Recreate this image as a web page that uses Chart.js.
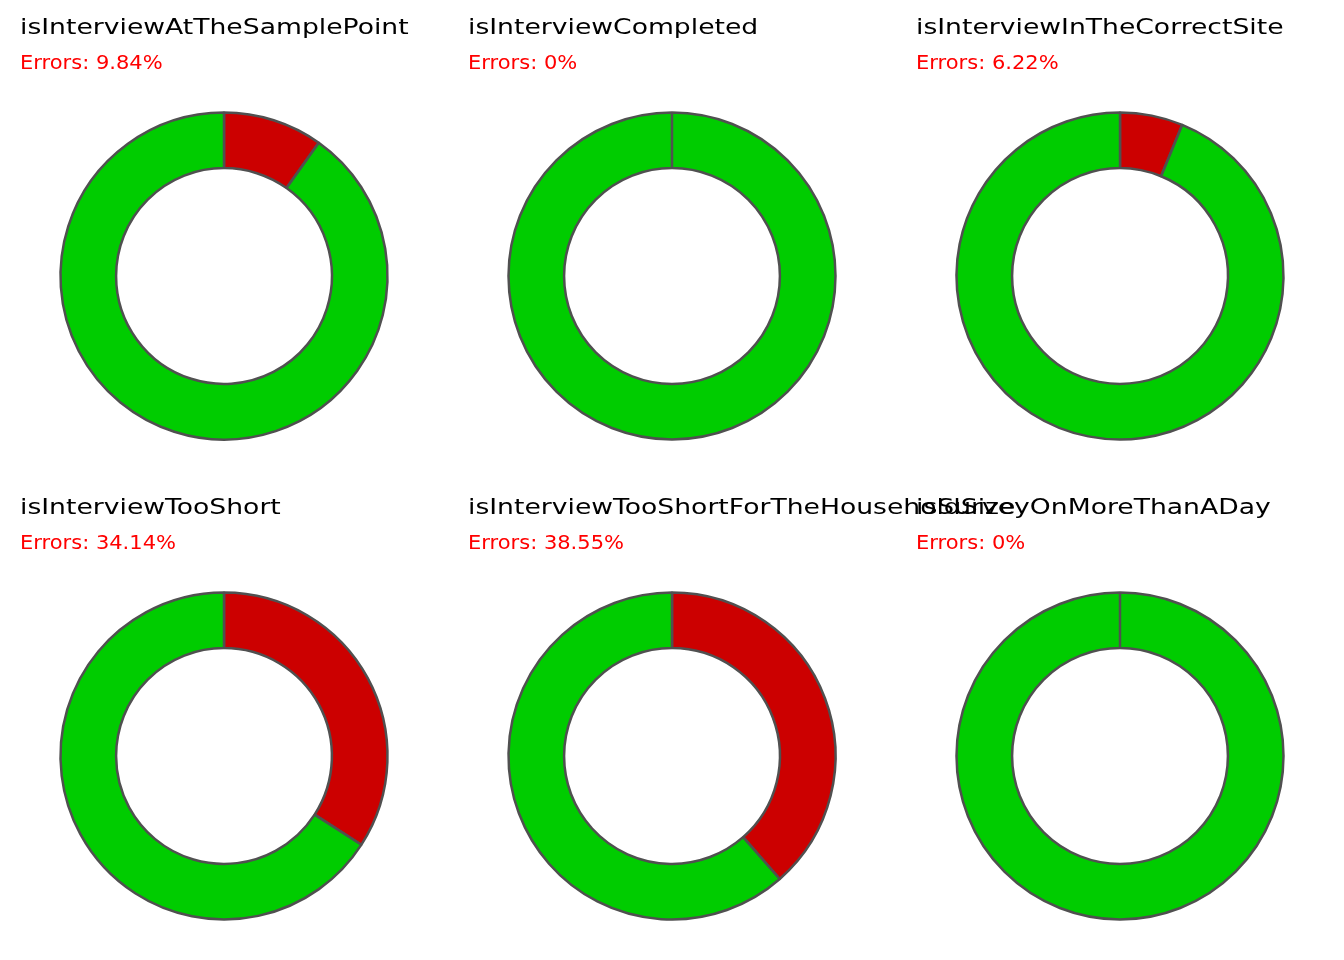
<!DOCTYPE html>
<html>
<head>
<meta charset="utf-8">
<script src="https://cdn.jsdelivr.net/npm/chart.js@4/dist/chart.umd.min.js"></script>
<style>
  html, body { margin: 0; padding: 0; background: #ffffff; }
  #wrap { position: relative; width: 1344px; height: 960px; overflow: hidden; }
  .panel { position: absolute; width: 448px; height: 480px; }
  .panel canvas { position: absolute; left: 0; top: 0; }
  .title { position: absolute; left: 20px; top: 14.3px; font-family: "DejaVu Sans", sans-serif; font-size: 22px; color: #000; white-space: nowrap; transform: scaleX(1.21); transform-origin: 0 0; }
  .err { position: absolute; left: 20px; top: 49.7px; font-family: "DejaVu Sans", sans-serif; font-size: 20px; color: #ff0000; white-space: nowrap; transform: scaleX(1.05); transform-origin: 0 0; }
</style>
</head>
<body>
<div id="wrap"></div>
<script>
const titles = [
  "isInterviewAtTheSamplePoint",
  "isInterviewCompleted",
  "isInterviewInTheCorrectSite",
  "isInterviewTooShort",
  "isInterviewTooShortForTheHouseholdSize",
  "isSurveyOnMoreThanADay"
];
const errorPct = [9.84, 0, 6.22, 34.14, 38.55, 0];
const errorLabels = ["9.84%", "0%", "6.22%", "34.14%", "38.55%", "0%"];
const sliceLabels = ["Errors", "OK"];
const sliceColors = ["#cc0000", "#00cc00"];

const wrap = document.getElementById('wrap');
titles.forEach((t, i) => {
  const col = i % 3, row = Math.floor(i / 3);
  const panel = document.createElement('div');
  panel.className = 'panel';
  panel.style.left = (col * 448) + 'px';
  panel.style.top = (row * 480) + 'px';
  const cv = document.createElement('canvas');
  cv.width = 448; cv.height = 480;
  cv.style.width = '448px'; cv.style.height = '480px';
  panel.appendChild(cv);
  wrap.appendChild(panel);

  const tWrap = document.createElement('div');
  tWrap.style.position = 'absolute';
  tWrap.style.left = (col * 448) + 'px';
  tWrap.style.top = (row * 480) + 'px';
  tWrap.style.zIndex = 20;
  const ti = document.createElement('div');
  ti.className = 'title'; ti.textContent = t;
  const er = document.createElement('div');
  er.className = 'err'; er.textContent = 'Errors: ' + errorLabels[i];
  tWrap.appendChild(ti); tWrap.appendChild(er);
  wrap.appendChild(tWrap);

  new Chart(cv, {
    type: 'doughnut',
    data: {
      labels: sliceLabels,
      datasets: [{
        data: [errorPct[i], 100 - errorPct[i]],
        backgroundColor: sliceColors,
        borderColor: '#505050',
        borderWidth: 2.5
      }]
    },
    options: {
      responsive: false,
      animation: false,
      events: [],
      radius: 163.5,
      cutout: '66%',
      layout: { padding: { top: 72, bottom: 0, left: 0, right: 0 } },
      plugins: { legend: { display: false }, tooltip: { enabled: false }, title: { display: false } }
    }
  });
});
</script>
</body>
</html>
